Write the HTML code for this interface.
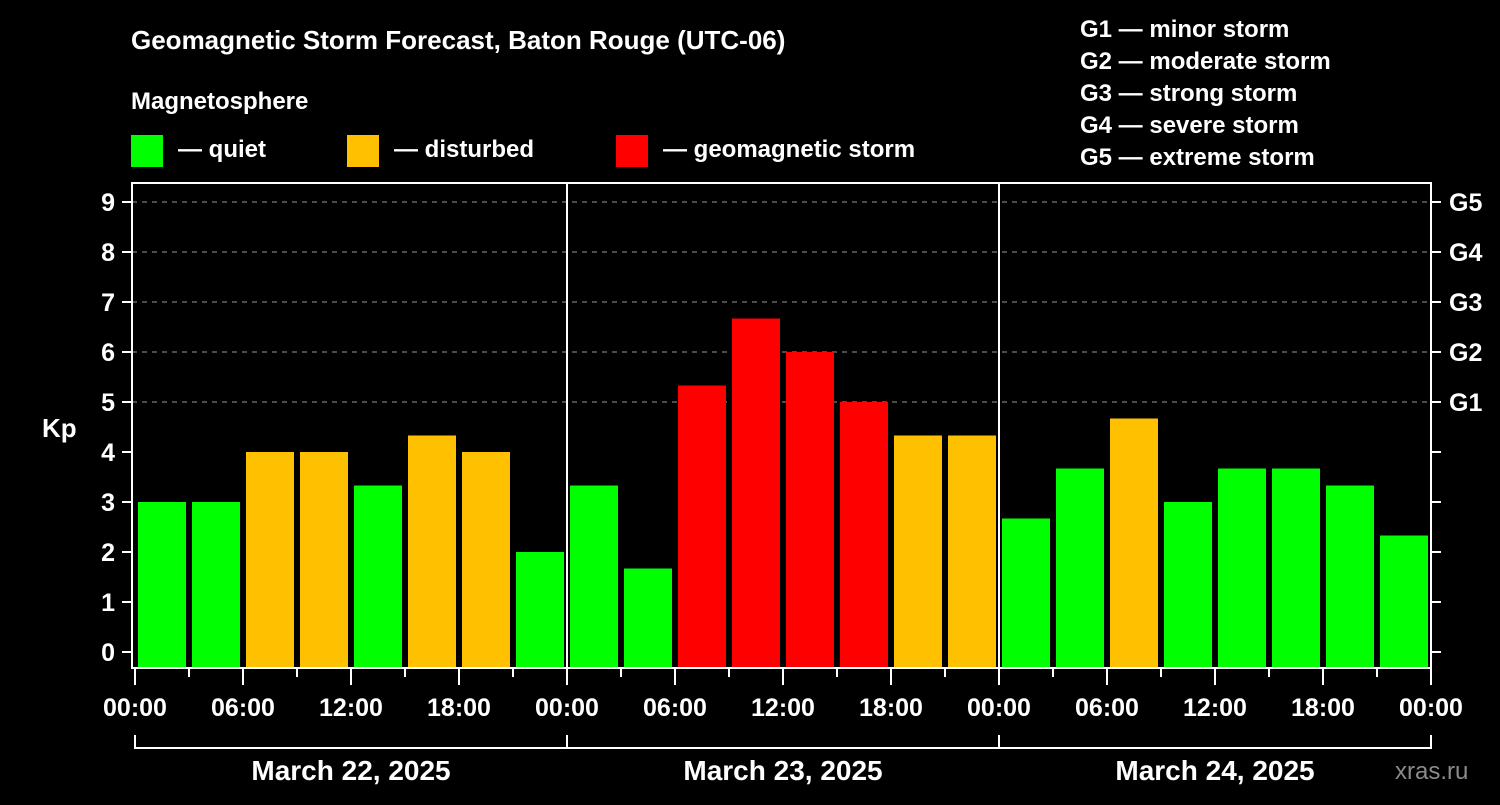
<!DOCTYPE html>
<html><head><meta charset="utf-8"><style>
body{margin:0;background:#000;}
svg text{font-family:"Liberation Sans",Arial,sans-serif;font-weight:bold;fill:#fff;}
</style></head><body>
<svg width="1500" height="800" viewBox="0 0 1500 800">
<rect width="1500" height="800" fill="#000"/>
<text x="131" y="49" font-size="26">Geomagnetic Storm Forecast, Baton Rouge (UTC-06)</text>
<text x="131" y="109" font-size="24">Magnetosphere</text>
<g><rect x="131" y="135" width="32" height="32" fill="#00ff00"/><text x="178" y="157" font-size="24">— quiet</text></g>
<g><rect x="347" y="135" width="32" height="32" fill="#ffc000"/><text x="394" y="157" font-size="24">— disturbed</text></g>
<g><rect x="616" y="135" width="32" height="32" fill="#ff0000"/><text x="663" y="157" font-size="24">— geomagnetic storm</text></g>
<g font-size="24">
<text x="1080" y="37">G1 — minor storm</text><text x="1080" y="69">G2 — moderate storm</text><text x="1080" y="101">G3 — strong storm</text><text x="1080" y="133">G4 — severe storm</text><text x="1080" y="165">G5 — extreme storm</text>
</g>
<text x="42" y="437" font-size="26">Kp</text>
<g id="grid"></g><g id="bars"></g><g id="axes"></g>
<text x="1395" y="779" font-size="24" fill="#888" style="fill:#8a8a8a;font-weight:normal">xras.ru</text>
</svg>
<script>
const dayLabels=["March 22, 2025","March 23, 2025","March 24, 2025"];
const kpValues=[3,3,4,4,3.33,4.33,4,2, 3.33,1.67,5.33,6.67,6,5,4.33,4.33, 2.67,3.67,4.67,3,3.67,3.67,3.33,2.33];
const yTicks=[0,1,2,3,4,5,6,7,8,9];
const gLabels=[[5,"G1"],[6,"G2"],[7,"G3"],[8,"G4"],[9,"G5"]];
const hourLabels=["00:00","06:00","12:00","18:00"];
const NS="http://www.w3.org/2000/svg";
const X0=135,SLOT=54,Y0=652,UNIT=50,TOP=183,BOT=668,RIGHT=1431;
const y=v=>Y0-v*UNIT, x=i=>X0+i*SLOT;
function mk(p,tag,a,t){const e=document.createElementNS(NS,tag);for(const k in a)e.setAttribute(k,a[k]);if(t!==undefined)e.textContent=t;p.appendChild(e);return e;}
const grid=document.getElementById('grid'),bars=document.getElementById('bars'),axes=document.getElementById('axes');
yTicks.forEach(v=>{
 if(v>=5){const l=mk(grid,'line',{x1:132,x2:RIGHT,y1:y(v),y2:y(v),stroke:'#999','stroke-dasharray':'5,5','stroke-width':1});
 }
 mk(axes,'line',{x1:122,x2:131,y1:y(v),y2:y(v),stroke:'#fff','stroke-width':2});
 mk(axes,'line',{x1:RIGHT,x2:RIGHT+10,y1:y(v),y2:y(v),stroke:'#fff','stroke-width':2});
 const t=mk(axes,'text',{x:115,y:y(v)+9,'font-size':25,'text-anchor':'end'},String(v));
 
});
gLabels.forEach(g=>{const t=mk(axes,'text',{x:1449,y:y(g[0])+9,'font-size':25},g[1]);
 });
kpValues.forEach((v,i)=>{
 const c=v>=5?'#ff0000':(v>=4?'#ffc000':'#00ff00');
 const r=mk(bars,'rect',{x:x(i)+3,y:y(v),width:48,height:BOT-y(v),fill:c});
 
});
mk(axes,'rect',{x:132,y:TOP,width:RIGHT-132,height:BOT-TOP,fill:'none',stroke:'#fff','stroke-width':2});
[1,2].forEach(d=>mk(axes,'line',{x1:x(d*8),x2:x(d*8),y1:TOP,y2:BOT,stroke:'#fff','stroke-width':2}));
for(let i=0;i<=24;i++){
 mk(axes,'line',{x1:x(i),x2:x(i),y1:BOT,y2:i%2?677:685,stroke:'#fff','stroke-width':2});
 if(i%2==0){const t=mk(axes,'text',{x:x(i),y:716,'font-size':25,'text-anchor':'middle'},hourLabels[(i/2)%4]);
 }
}
mk(axes,'line',{x1:x(0),x2:x(24),y1:748,y2:748,stroke:'#fff','stroke-width':2});
for(let d=0;d<=3;d++)mk(axes,'line',{x1:x(d*8),x2:x(d*8),y1:735,y2:749,stroke:'#fff','stroke-width':2});
dayLabels.forEach((s,d)=>{const t=mk(axes,'text',{x:x(d*8+4),y:780,'font-size':28,'text-anchor':'middle'},s);
 });
</script>
</body></html>
